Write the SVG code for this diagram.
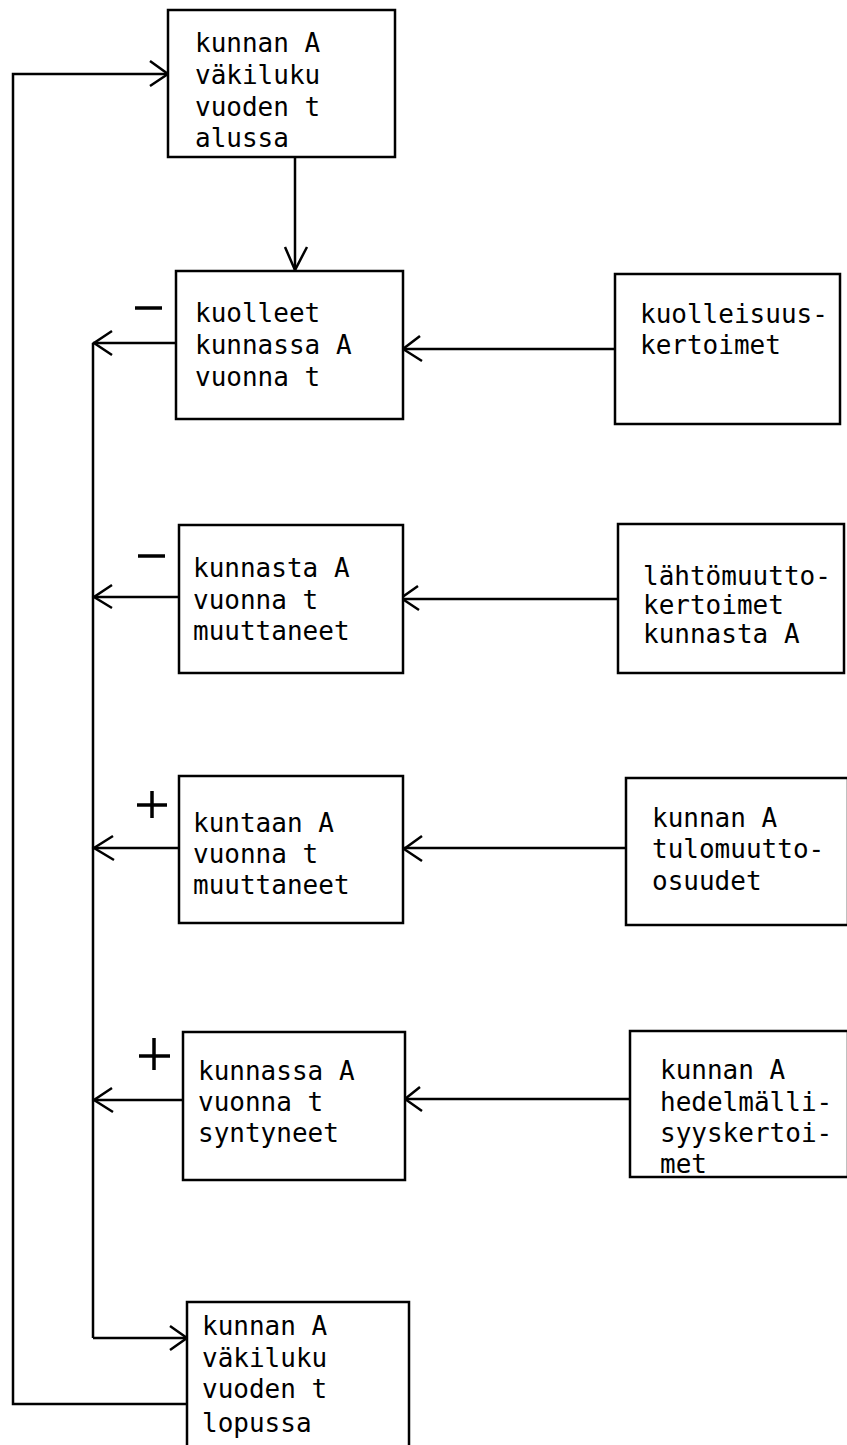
<svg xmlns="http://www.w3.org/2000/svg" width="847" height="1445" viewBox="0 0 847 1445">
<style>
.box{fill:#fff;stroke:#000;stroke-width:2.5}
.ln{fill:none;stroke:#000;stroke-width:2.5}
.ah{fill:none;stroke:#000;stroke-width:2.5;stroke-linejoin:miter}
.sg{fill:none;stroke:#000;stroke-width:3.5}
text{font-family:"DejaVu Sans Mono","Liberation Mono",monospace;font-size:26px;fill:#000}
</style>
<rect width="847" height="1445" fill="#fff"/>
<g id="connectors">
  <!-- loop back -->
  <polyline class="ln" points="187,1404 13,1404 13,74 168,74"/>
  <polyline class="ah" points="150,61 168,74 150,86"/>
  <!-- top to kuolleet -->
  <line class="ln" x1="295" y1="157" x2="295" y2="271"/>
  <polyline class="ah" points="285,247 295,270 307,247"/>
  <!-- collector vertical -->
  <line class="ln" x1="93" y1="343" x2="93" y2="1338"/>
  <line class="ln" x1="93" y1="1338" x2="187" y2="1338"/>
  <polyline class="ah" points="170,1326 187,1338 170,1350"/>
  <!-- left outputs -->
  <line class="ln" x1="176" y1="343" x2="93" y2="343"/>
  <polyline class="ah" points="112,331 94,343 112,355"/>
  <line class="ln" x1="179" y1="597" x2="93" y2="597"/>
  <polyline class="ah" points="112,585 94,597 112,608"/>
  <line class="ln" x1="179" y1="848" x2="93" y2="848"/>
  <polyline class="ah" points="113,836 94,848 114,860"/>
  <line class="ln" x1="183" y1="1100" x2="93" y2="1100"/>
  <polyline class="ah" points="112,1088 94,1100 113,1112"/>
  <!-- right inputs -->
  <line class="ln" x1="615" y1="349" x2="403" y2="349"/>
  <polyline class="ah" points="420,336 403,349 422,361"/>
  <line class="ln" x1="618" y1="599" x2="401" y2="599"/>
  <polyline class="ah" points="418,586 401,598 419,610"/>
  <line class="ln" x1="626" y1="848" x2="403" y2="848"/>
  <polyline class="ah" points="422,836 404,849 422,861"/>
  <line class="ln" x1="630" y1="1099" x2="405" y2="1099"/>
  <polyline class="ah" points="420,1087 405,1099 422,1111"/>
</g>
<g id="signs">
  <line class="sg" x1="135" y1="308" x2="162" y2="308"/>
  <line class="sg" x1="138" y1="556" x2="165" y2="556"/>
  <line class="sg" x1="137" y1="805" x2="167" y2="805"/>
  <line class="sg" x1="152" y1="791" x2="152" y2="818"/>
  <line class="sg" x1="139" y1="1056" x2="170" y2="1056"/>
  <line class="sg" x1="154" y1="1038" x2="154" y2="1070"/>
</g>
<g id="n_start">
  <rect class="box" x="168" y="10" width="227" height="147"/>
  <text x="195" y="52">kunnan A</text>
  <text x="195" y="84">väkiluku</text>
  <text x="195" y="116">vuoden t</text>
  <text x="195" y="147">alussa</text>
</g>
<g id="n_kuolleet">
  <rect class="box" x="176" y="271" width="227" height="148"/>
  <text x="195" y="322">kuolleet</text>
  <text x="195" y="354">kunnassa A</text>
  <text x="195" y="386">vuonna t</text>
</g>
<g id="n_kuolleisuus">
  <rect class="box" x="615" y="274" width="225" height="150"/>
  <text x="640" y="323">kuolleisuus-</text>
  <text x="640" y="354">kertoimet</text>
</g>
<g id="n_lahteneet">
  <rect class="box" x="179" y="525" width="224" height="148"/>
  <text x="193" y="577">kunnasta A</text>
  <text x="193" y="609">vuonna t</text>
  <text x="193" y="640">muuttaneet</text>
</g>
<g id="n_lahtomuutto">
  <rect class="box" x="618" y="524" width="226" height="149"/>
  <text x="643" y="585">lähtömuutto-</text>
  <text x="643" y="614">kertoimet</text>
  <text x="643" y="643">kunnasta A</text>
</g>
<g id="n_tulleet">
  <rect class="box" x="179" y="776" width="224" height="147"/>
  <text x="193" y="832">kuntaan A</text>
  <text x="193" y="863">vuonna t</text>
  <text x="193" y="894">muuttaneet</text>
</g>
<g id="n_tulomuutto">
  <rect class="box" x="626" y="778" width="222" height="147"/>
  <text x="652" y="827">kunnan A</text>
  <text x="652" y="858">tulomuutto-</text>
  <text x="652" y="890">osuudet</text>
</g>
<g id="n_syntyneet">
  <rect class="box" x="183" y="1032" width="222" height="148"/>
  <text x="198" y="1080">kunnassa A</text>
  <text x="198" y="1111">vuonna t</text>
  <text x="198" y="1142">syntyneet</text>
</g>
<g id="n_hedelmallisyys">
  <rect class="box" x="630" y="1031" width="218" height="146"/>
  <text x="660" y="1079">kunnan A</text>
  <text x="660" y="1111">hedelmälli-</text>
  <text x="660" y="1142">syyskertoi-</text>
  <text x="660" y="1173">met</text>
</g>
<g id="n_end">
  <rect class="box" x="187" y="1302" width="222" height="160"/>
  <text x="202" y="1335">kunnan A</text>
  <text x="202" y="1367">väkiluku</text>
  <text x="202" y="1398">vuoden t</text>
  <text x="202" y="1432">lopussa</text>
</g>
</svg>
